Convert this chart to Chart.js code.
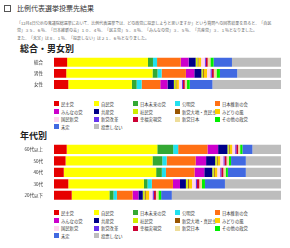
<!DOCTYPE html>
<html>
<head>
<meta charset="utf-8">
<script src="https://cdn.jsdelivr.net/npm/chart.js@4"></script>
<style>
  body { margin: 0; background: #fff; font-family: "Noto Sans CJK JP", sans-serif; }
  #page { position: relative; width: 290px; height: 248px; overflow: hidden; }
  .icon { position: absolute; left: 4px; top: 5px; width: 5px; height: 5px; border: 1px solid #555; }
  .title { position: absolute; left: 17px; top: 3px; font-size: 7px; color: #333; white-space: nowrap; }
  .lead { position: absolute; left: 17px; top: 20px; font-size: 4px; line-height: 7.3px; color: #666; white-space: nowrap; }
  .sec { position: absolute; left: 20px; font-size: 9px; font-weight: bold; color: #222; white-space: nowrap; }
  .cv { position: absolute; left: 0; }
  .legend { position: absolute; left: 54px; display: grid; grid-template-columns: 40px 39px 42px 40px 60px; grid-auto-rows: 7.7px; }
  .item { display: flex; align-items: center; font-size: 4.3px; color: #333; white-space: nowrap; }
  .sw { width: 5px; height: 5px; margin-right: 2px; flex: none; }
</style>
</head>
<body>
<div id="page">
  <div class="icon"></div>
  <div class="title">比例代表選挙投票先結果</div>
  <div class="lead">「12月4日公示の衆議院総選挙において、比例代表選挙では、どの政党に投票しようと思いますか」という質問への回答結果を見ると、「自民<br>党」３５．６％、「日本維新の会」１０．４％、「民主党」５．８％、「みんなの党」３．５％、「共産党」３．１％となりました。<br>また、「未定」は８．１％、「投票しない」は２１．６％となりました。</div>

  <div class="sec" style="top:42px">総合・男女別</div>
  <canvas id="chart1" class="cv" style="top:51px" width="290" height="46"></canvas>
  <div id="legend1" class="legend" style="top:100px"></div>

  <div class="sec" style="top:129px">年代別</div>
  <canvas id="chart2" class="cv" style="top:138px" width="290" height="70"></canvas>
  <div id="legend2" class="legend" style="top:209px"></div>
</div>
<script>
const parties = ['民主党', '自民党', '日本未来の党', '公明党', '日本維新の会',
    'みんなの党', '共産党', '社民党', '新党大地・真民主', 'みどりの風',
    '国民新党', '新党改革', '幸福実現党', '新党日本', 'その他の政党',
    '未定', '投票しない'];
const colors = ['#e60000', '#ffff00', '#33a833', '#22e0ee', '#ff7014',
    '#cc00cc', '#000088', '#ccee00', '#995500', '#ffcc00',
    '#ffd6ee', '#6633ee', '#cc0033', '#eedd99', '#00ee00',
    '#4169e1', '#bdbdbd'];

const groupLabels = ['総合', '男性', '女性'];
const sogo = [5.8, 35.6, 2.2, 1.8, 10.4, 3.5, 3.1, 0.8, 0.4, 1.2, 1.6, 0.5, 0.8, 1.2, 1.4, 8.1, 21.6];
const male = [5.4, 38.0, 2.2, 1.8, 10.7, 3.7, 3.1, 0.7, 0.4, 1.4, 1.5, 0.6, 0.9, 1.2, 1.5, 7.6, 19.3];
const female = [6.3, 28.0, 2.1, 2.2, 8.2, 3.2, 2.8, 0.7, 0.4, 1.1, 1.3, 0.5, 0.8, 1.0, 1.2, 10.0, 30.2];

const ageLabels = ['60代以上', '50代', '40代', '30代', '20代以下'];
const age60 = [5.6, 39.9, 7.0, 2.2, 12.9, 4.7, 4.1, 0.6, 0.4, 1.1, 1.3, 0.5, 0.8, 0.9, 1.0, 4.4, 12.6];
const age50 = [5.1, 38.3, 4.3, 1.9, 12.8, 4.6, 4.0, 0.7, 0.4, 1.1, 1.4, 0.5, 0.9, 1.0, 1.0, 6.5, 15.5];
const age40 = [4.3, 40.7, 2.5, 1.8, 12.6, 4.3, 3.5, 0.7, 0.4, 1.1, 1.3, 0.5, 0.9, 1.0, 1.0, 7.9, 15.5];
const age30 = [6.3, 33.3, 1.6, 1.9, 9.3, 3.1, 2.6, 0.8, 0.5, 1.4, 1.6, 0.6, 1.0, 1.2, 1.3, 8.8, 24.7];
const age20 = [7.8, 16.6, 1.8, 1.5, 6.9, 2.6, 1.9, 0.8, 0.5, 1.5, 1.5, 0.6, 0.9, 1.1, 1.2, 4.7, 48.1];

const xTicks = [0, 10, 20, 30, 40, 50, 60, 70, 80, 90, 100];

// rows are per category, chart.js wants one dataset per party
function makeDatasets(rows) {
    return parties.map((name, i) => ({
        label: name,
        data: rows.map(r => r[i]),
        backgroundColor: colors[i],
        borderWidth: 0,
        barPercentage: 0.8,
        categoryPercentage: 1.0
    }));
}

function makeChart(id, labels, rows) {
    new Chart(document.getElementById(id), {
        type: 'bar',
        data: { labels: labels, datasets: makeDatasets(rows) },
        options: {
            indexAxis: 'y',
            responsive: false,
            animation: false,
            layout: { padding: { left: 0, right: 9, top: 1, bottom: 0 } },
            plugins: { legend: { display: false }, tooltip: { enabled: false } },
            scales: {
                x: {
                    stacked: true,
                    min: 0,
                    max: 100,
                    grid: { display: false },
                    border: { display: false },
                    afterFit: scale => { scale.height = 7; },
                    afterBuildTicks: scale => { scale.ticks = xTicks.map(v => ({ value: v })); },
                    ticks: {
                        padding: 0,
                        color: '#555',
                        font: { size: 4.5, family: 'Noto Sans CJK JP' },
                        callback: v => v === 0 ? '' : v
                    }
                },
                y: {
                    stacked: true,
                    grid: { display: false },
                    border: { display: false },
                    afterFit: scale => { scale.width = 54; },
                    ticks: {
                        padding: 3,
                        color: '#333',
                        font: { size: 4.5, family: 'Noto Sans CJK JP' }
                    }
                }
            }
        }
    });
}

function makeLegend(id) {
    const box = document.getElementById(id);
    parties.forEach((name, i) => {
        const item = document.createElement('div');
        item.className = 'item';
        item.innerHTML = '<span class="sw" style="background:' + colors[i] + '"></span>' + name;
        box.appendChild(item);
    });
}

makeChart('chart1', groupLabels, [sogo, male, female]);
makeChart('chart2', ageLabels, [age60, age50, age40, age30, age20]);
makeLegend('legend1');
makeLegend('legend2');
</script>
</body>
</html>
